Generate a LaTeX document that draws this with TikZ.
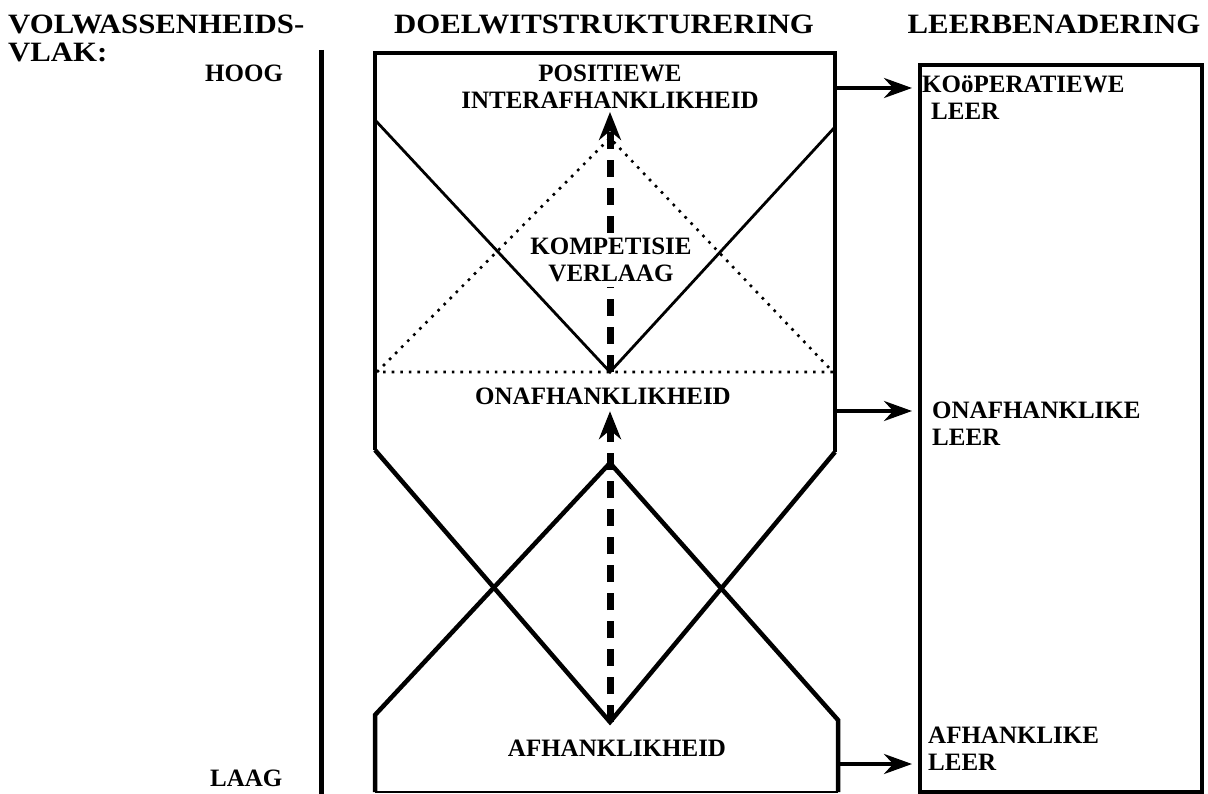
\documentclass[tikz,border=0pt]{standalone}
\usepackage{fontspec}
\setmainfont{Liberation Serif}
\newfontfamily\headfont[FakeStretch=1.1]{Liberation Serif}
\usetikzlibrary{arrows.meta, calc}
\tikzset{%
  >={Stealth[width=20pt,length=28pt]},
  % Specifications for style of nodes:
          base/.style = {inner sep=0pt, font=\fontsize{25}{27}\selectfont\bfseries},
       heading/.style = {base, font=\headfont\fontsize{28}{28}\selectfont\bfseries, align=left},
     levelText/.style = {base, anchor=north, align=center},
      leerText/.style = {base, anchor=north west, align=left},
  % Specifications for style of lines:
     thickLine/.style = {line width=4.5pt, line join=miter},
      thinLine/.style = {line width=2.8pt},
       dotLine/.style = {line width=2.6pt, dash pattern=on 2.6pt off 6pt},
   growthArrow/.style = {>={Stealth[width=22pt,length=28pt]},
                         line width=7pt, dash pattern=on 17pt off 11pt},
     leerArrow/.style = {->, line width=4pt, shorten >=6pt},
}

\begin{document}
\begin{tikzpicture}[x=1pt, y=-1pt]
  \useasboundingbox (0,0) rectangle (1208,794);

  % Corner points of the structure in the middle
  \coordinate (boxNW)     at (375,53);
  \coordinate (boxNE)     at (835,53);
  \coordinate (upLeft)    at (375,120);
  \coordinate (upRight)   at (835,127);
  \coordinate (upApex)    at (610,372);
  \coordinate (dotApex)   at (610,138);
  \coordinate (dotLeft)   at (377,372);
  \coordinate (dotRight)  at (833,372);
  \coordinate (midLeft)   at (375,450);
  \coordinate (midRight)  at (835,452);
  \coordinate (lowApex)   at (610,722);
  \coordinate (crossApex) at (610,463);
  \coordinate (lowLeft)   at (375,715);
  \coordinate (lowRight)  at (838,720);
  \coordinate (baseLeft)  at (375,792);
  \coordinate (baseRight) at (838,792);
  \coordinate (axisTop)   at (321,50);
  \coordinate (axisBot)   at (321,794);

  % Headings and the scale on the left
  \node (volwText) [heading, anchor=north west] at (8,15) {VOLWASSENHEIDS-\\VLAK:};
  \node (doelText) [heading, anchor=north]      at (604,15) {DOELWITSTRUKTURERING};
  \node (leerHead) [heading, anchor=north]      at (1054,15) {LEERBENADERING};
  \node (hoogText) [base, anchor=north west]    at (205,65) {HOOG};
  \node (laagText) [base, anchor=north west]    at (210,770) {LAAG};
  \draw[line width=5pt] (axisTop) -- (axisBot);

  % Outline of the goal structure
  \draw[thickLine] (midLeft) -- (boxNW) -- (boxNE) -- (midRight);
  \draw[thickLine] (midLeft) -- (lowApex) -- (midRight);
  \draw[thickLine] (baseLeft) -- (lowLeft) -- (crossApex) -- (lowRight) -- (baseRight);
  \draw[thinLine]  (baseLeft) -- (baseRight);
  \draw[thinLine]  (upLeft) -- (upApex) -- (upRight);
  \draw[dotLine]   (dotLeft) -- (dotApex) -- (dotRight) -- cycle;

  \node (posInter) [levelText] at (610,65)  {POSITIEWE\\INTERAFHANKLIKHEID};
  \node (kompText) [levelText, inner sep=5pt] at (611,233) {KOMPETISIE\\VERLAAG};
  \node (onafText) [levelText] at (603,388) {ONAFHANKLIKHEID};
  \node (afhText)  [levelText] at (617,740) {AFHANKLIKHEID};

  % Dashed arrows up through the levels
  \draw[growthArrow] (upApex) -- (upApex |- kompText.south);
  \draw[growthArrow, ->, shorten >=3pt] (upApex |- kompText.north) -- (upApex |- posInter.south);
  \draw[growthArrow, ->, shorten >=6pt] (lowApex) -- (lowApex |- onafText.south);

  % Learning approach box on the right
  \node (leerBox) [draw, line width=4pt, inner sep=0pt, anchor=north west,
                   minimum width=282pt, minimum height=727pt] at (918,63) {};
  \node (koopText) [leerText] at (922,76)  {KOöPERATIEWE\\\hspace*{9pt}LEER};
  \node (onafLeer) [leerText] at (932,402) {ONAFHANKLIKE\\LEER};
  \node (afhLeer)  [leerText] at (928,727) {AFHANKLIKE\\LEER};

  \coordinate (koopStart) at (835,88);
  \coordinate (onafStart) at (837,411);
  \coordinate (afhStart)  at (840,764);
  \draw[leerArrow] (koopStart) -- (koopStart -| leerBox.west);
  \draw[leerArrow] (onafStart) -- (onafStart -| leerBox.west);
  \draw[leerArrow] (afhStart)  -- (afhStart -| leerBox.west);
\end{tikzpicture}
\end{document}
